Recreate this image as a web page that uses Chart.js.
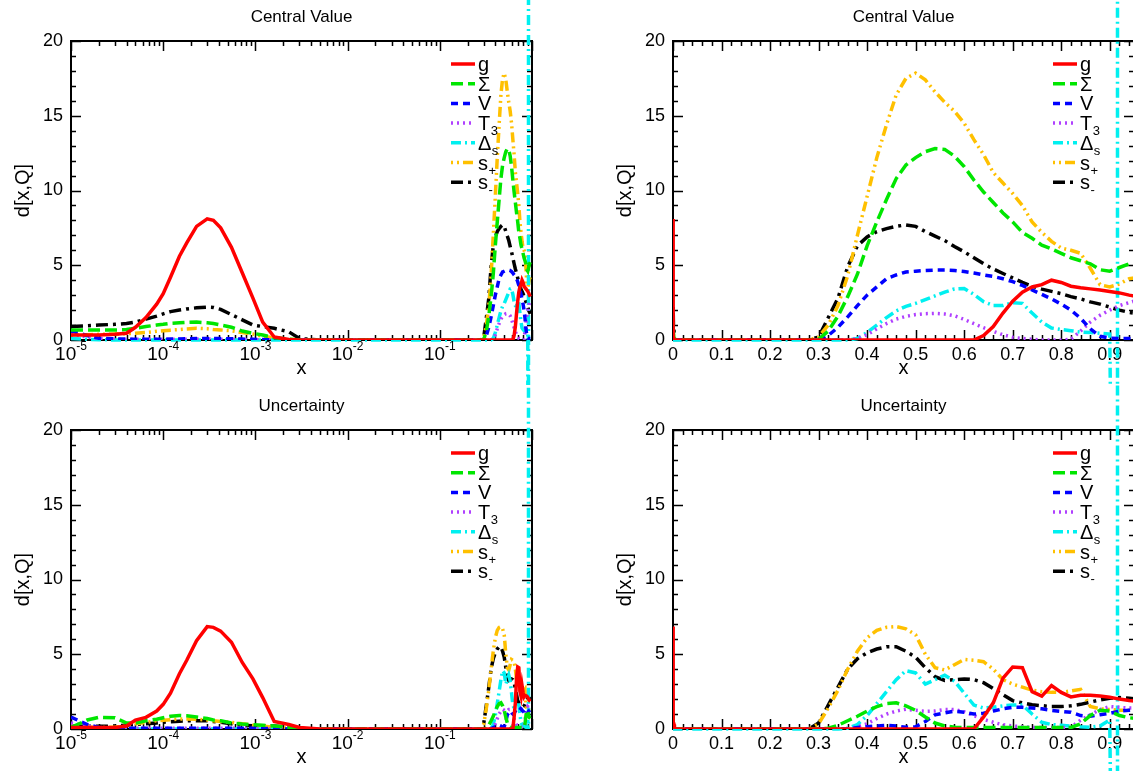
<!DOCTYPE html>
<html>
<head>
<meta charset="utf-8">
<title>d[x,Q]</title>
<script src="https://cdn.jsdelivr.net/npm/chart.js@4.4.1/dist/chart.umd.min.js"></script>
<style>
  html, body { margin: 0; padding: 0; background: #fff; overflow: hidden; width: 1133px; height: 771px; }
  .panel { position: absolute; }
  .panel canvas { display: block; }
</style>
</head>
<body>
<div class="panel" style="left:0px;top:0px"><canvas id="cvCenLog" width="560" height="385"></canvas></div>
<div class="panel" style="left:602px;top:0px"><canvas id="cvCenLin" width="560" height="385"></canvas></div>
<div class="panel" style="left:0px;top:385px"><canvas id="cvUncLog" width="560" height="389"></canvas></div>
<div class="panel" style="left:602px;top:385px"><canvas id="cvUncLin" width="560" height="389"></canvas></div>

<script>
// ---------------------------------------------------------------
// x grid shared by every curve: a logarithmic part for small x and
// a regular part for large x
// ---------------------------------------------------------------
const xLow = [1e-5, 1.5e-5, 2e-5, 3e-5, 4e-5, 5e-5, 6.5e-5, 8.5e-5, 1e-4, 1.2e-4,
              1.5e-4, 1.8e-4, 2.3e-4, 3e-4, 3.5e-4, 4.2e-4, 5.5e-4, 7.2e-4, 9.4e-4, 1.2e-3,
              1.6e-3, 2.3e-3, 3e-3, 5e-3, 1e-2, 3e-2, 0.1, 0.2];
const xHigh = [0.28, 0.30, 0.32, 0.34, 0.36, 0.38, 0.40, 0.42, 0.44, 0.46,
               0.48, 0.50, 0.52, 0.54, 0.56, 0.58, 0.60, 0.62, 0.64, 0.66,
               0.68, 0.70, 0.72, 0.74, 0.76, 0.78, 0.80, 0.82, 0.84, 0.86,
               0.88, 0.90, 0.92, 0.94, 0.96];

// Δs diverges at this x: the curve leaves the frame on both sides
const dsPoleX = 0.916;
const dsPoleY = [-45, 45];

// ---------------------------- central value ----------------------------
const gCenLow   = [0.33,0.33,0.33,0.38,0.45,0.85,1.5,2.4,3.1,4.2,5.6,6.5,7.6,8.1,8.0,7.5,6.2,4.5,2.8,1.2,0.2,0.03,0,0,0,0,0,0];
const sigCenLow = [0.67,0.67,0.67,0.67,0.7,0.78,0.9,1.0,1.05,1.12,1.15,1.18,1.2,1.15,1.1,1.0,0.85,0.6,0.45,0.33,0.15,0.05,0,0,0,0,0,0];
const vCenLow   = [0.6,0.3,0.12,0.08,0.06,0.05,0.05,0.05,0.05,0.06,0.07,0.08,0.1,0.1,0.1,0.1,0.08,0.06,0.05,0.03,0.02,0,0,0,0,0,0,0];
const t3CenLow  = [0.4,0.2,0.1,0.06,0.05,0.05,0.05,0.05,0.05,0.05,0.05,0.06,0.06,0.06,0.06,0.05,0.05,0.04,0.03,0.02,0.01,0,0,0,0,0,0,0];
const dsCenLow  = [0.1,0.05,0.02,0,0,0,0,0,0,0,0,0,0,0,0,0,0,0,0,0,0,0,0,0,0,0,0,0];
const spCenLow  = [0.33,0.35,0.38,0.4,0.42,0.45,0.5,0.58,0.62,0.66,0.7,0.74,0.78,0.75,0.7,0.67,0.62,0.5,0.4,0.25,0.15,0.05,0,0,0,0,0,0];
const smCenLow  = [0.9,0.95,1.0,1.05,1.1,1.2,1.4,1.6,1.75,1.9,2.0,2.08,2.15,2.2,2.18,2.05,1.7,1.35,1.0,0.9,0.78,0.55,0.1,0,0,0,0,0];

const gCenHigh   = [0,0,0,0,0,0,0,0,0,0,0,0,0,0,0,0,0,0,0.3,0.9,1.8,2.6,3.2,3.55,3.7,4.0,3.85,3.6,3.5,3.42,3.35,3.25,3.15,3.0,2.9];
const sigCenHigh = [0,0.05,0.6,1.6,2.9,4.4,6.3,7.9,9.4,10.8,11.7,12.2,12.6,12.8,12.75,12.3,11.6,10.7,9.9,9.2,8.5,7.9,7.2,6.8,6.35,6.1,5.8,5.5,5.3,5.1,4.7,4.6,4.85,5.1,5.2];
const vCenHigh   = [0,0,0.3,0.85,1.55,2.3,3.0,3.55,4.1,4.35,4.55,4.6,4.65,4.68,4.68,4.65,4.58,4.48,4.35,4.25,4.1,3.9,3.65,3.35,3.05,2.75,2.4,2.0,1.45,0.75,0.25,0.12,0.1,0.1,0.1];
const t3CenHigh  = [0,0,0,0,0,0.1,0.35,0.75,1.1,1.4,1.58,1.7,1.76,1.78,1.74,1.62,1.38,1.1,0.82,0.58,0.35,0.18,0.1,0.05,0,0,0,0.05,0.6,1.2,1.65,2.0,2.3,2.5,2.7];
const dsCenHigh  = [0,0,0,0,0,0.1,0.5,1.0,1.5,1.95,2.25,2.45,2.7,2.95,3.2,3.42,3.45,3.05,2.56,2.3,2.3,2.5,2.45,1.8,1.2,0.8,0.7,0.62,0.53,0.5,0.45,0.4];
const spCenHigh  = [0,0.2,1.0,2.3,4.3,7.0,9.6,12.2,14.4,16.4,17.5,17.85,17.4,16.6,15.9,15.3,14.5,13.4,12.4,11.2,10.5,9.8,9.0,7.9,7.2,6.6,6.15,6.0,5.8,4.8,3.7,3.55,3.75,4.1,4.2];
const smCenHigh  = [0,0.2,1.5,2.8,4.9,6.3,6.9,7.25,7.45,7.6,7.7,7.6,7.25,6.95,6.65,6.25,5.9,5.5,5.1,4.75,4.45,4.15,3.85,3.6,3.4,3.25,3.1,2.9,2.75,2.55,2.4,2.2,2.0,1.85,1.75];

// ----------------------------- uncertainty -----------------------------
const gUncLow   = [0.1,0.1,0.1,0.1,0.2,0.6,0.78,1.2,1.65,2.4,3.7,4.6,5.9,6.85,6.8,6.55,5.8,4.45,3.35,2.1,0.5,0.3,0.1,0,0,0,0,0];
const sigUncLow = [0.1,0.6,0.78,0.75,0.4,0.4,0.55,0.65,0.75,0.85,0.9,0.88,0.8,0.7,0.6,0.55,0.4,0.33,0.28,0.25,0.2,0.1,0,0,0,0,0,0];
const vUncLow   = [0.8,0.3,0.1,0.05,0.05,0.05,0.05,0.05,0.05,0.05,0.05,0.05,0.05,0.05,0.05,0.05,0.05,0.05,0.05,0.03,0.02,0,0,0,0,0,0,0];
const t3UncLow  = [0.4,0.2,0.1,0.05,0.05,0.05,0.05,0.05,0.05,0.05,0.05,0.05,0.05,0.05,0.05,0.05,0.05,0.04,0.03,0.02,0.01,0,0,0,0,0,0,0];
const dsUncLow  = [0.05,0.03,0.02,0,0,0,0,0,0,0,0,0,0,0,0,0,0,0,0,0,0,0,0,0,0,0,0,0];
const spUncLow  = [0.22,0.15,0.1,0.12,0.2,0.35,0.45,0.55,0.58,0.62,0.66,0.67,0.65,0.6,0.55,0.5,0.45,0.35,0.25,0.2,0.12,0.05,0,0,0,0,0,0];
const smUncLow  = [0.18,0.18,0.18,0.2,0.25,0.3,0.35,0.4,0.45,0.48,0.52,0.55,0.55,0.55,0.5,0.45,0.35,0.25,0.22,0.22,0.2,0.1,0,0,0,0,0,0];

const gUncHigh   = [0,0,0,0,0,0,0,0,0,0,0,0,0,0,0,0,0,0,0.8,1.75,3.4,4.15,4.1,2.5,2.2,2.9,2.45,2.15,2.25,2.25,2.2,2.12,2.0,1.9,1.85];
const sigUncHigh = [0,0,0.05,0.25,0.55,0.85,1.2,1.5,1.7,1.75,1.55,1.25,0.8,0.4,0.2,0.12,0.1,0.1,0.1,0.1,0.1,0.1,0.1,0.1,0.1,0.1,0.1,0.1,0.35,0.9,1.25,1.2,0.9,0.75,0.7];
const vUncHigh   = [0,0,0,0,0,0.1,0.15,0.2,0.25,0.2,0.12,0.15,0.5,0.95,1.08,1.2,1.12,1.0,1.05,1.2,1.35,1.45,1.45,1.4,1.35,1.25,1.18,1.12,0.9,0.85,0.95,1.05,1.2,1.25,1.3];
const t3UncHigh  = [0,0,0,0,0,0.15,0.35,0.7,1.0,1.2,1.32,1.25,1.18,1.2,1.3,1.3,1.15,0.9,0.65,0.45,0.28,0.2,0.15,0.1,0.1,0.1,0.1,0.1,0.6,0.95,1.3,1.5,1.45,1.4,1.4];
const dsUncHigh  = [0,0,0,0,0.05,0.3,0.9,1.7,2.5,3.3,3.9,3.75,3.0,3.3,3.6,3.2,2.4,1.6,1.4,1.45,1.55,1.6,1.6,1.0,0.45,0.3,0.25,0.2,0.15,0.12,0.2,0.6];
const spUncHigh  = [0,0.35,1.4,2.6,4.0,5.2,6.1,6.6,6.8,6.85,6.7,6.3,5.0,4.1,3.95,4.3,4.65,4.6,4.5,4.0,3.3,3.0,2.8,2.6,2.5,2.45,2.45,2.55,2.65,1.5,1.35,1.3,1.25,1.25,1.25];
const smUncHigh  = [0,0.4,1.6,2.8,4.0,4.7,5.1,5.35,5.5,5.5,5.2,4.8,4.1,3.5,3.25,3.3,3.35,3.3,3.1,2.7,2.3,1.9,1.75,1.62,1.56,1.5,1.5,1.55,1.65,1.8,1.95,2.05,2.1,2.05,2.0];

// series names (main symbol + subscript)
const seriesNames = ['g', 'Σ', 'V', 'T', 'Δ', 's', 's'];
const seriesSubs  = ['', '', '', '3', 's', '+', '-'];

// axis labels
const linTickLabels = ['0', '0.1', '0.2', '0.3', '0.4', '0.5', '0.6', '0.7', '0.8', '0.9'];
const logTickExps = [-5, -4, -3, -2, -1];
const panelTitles = ['Central Value', 'Uncertainty'];

// ---------------------------------------------------------------
// styles
// ---------------------------------------------------------------
const FONT = "'Liberation Sans', Arial, Helvetica, sans-serif";
const seriesColors = ['#ff0000', '#00e600', '#0000ff', '#b040ff', '#00f0f0', '#ffc000', '#000000'];
const seriesDashes = [[], [12, 5], [7, 5], [2, 4], [10, 4, 2, 4], [2, 4, 2, 4, 10, 4], [12, 5, 3, 5]];
const LINE_W = 3.5;

function toPoints(low, high) {
  const pts = xLow.map((x, i) => ({ x: x, y: low[i] }));
  return pts.concat(high.map((v, i) => ({ x: xHigh[i], y: v })));
}

function rowSeries(low, high, dsIndex) {
  return low.map((l, k) => {
    const pts = toPoints(l, high[k]);
    if (k === dsIndex) dsPoleY.forEach(v => pts.push({ x: dsPoleX, y: v }));
    return pts;
  });
}

const centralSeries = rowSeries(
  [gCenLow, sigCenLow, vCenLow, t3CenLow, dsCenLow, spCenLow, smCenLow],
  [gCenHigh, sigCenHigh, vCenHigh, t3CenHigh, dsCenHigh, spCenHigh, smCenHigh], 4);
const uncertaintySeries = rowSeries(
  [gUncLow, sigUncLow, vUncLow, t3UncLow, dsUncLow, spUncLow, smUncLow],
  [gUncHigh, sigUncHigh, vUncHigh, t3UncHigh, dsUncHigh, spUncHigh, smUncHigh], 4);

// ---------------------------------------------------------------
// frame with inward ticks on all four sides (drawn under the curves)
// ---------------------------------------------------------------
const frameTicks = {
  id: 'frameTicks',
  beforeDatasetsDraw(chart) {
    const { ctx, chartArea: a, scales } = chart;
    const xs = scales.x, ys = scales.y;
    const MAJ = 10, MIN = 5;
    ctx.save();
    ctx.strokeStyle = '#000';
    ctx.setLineDash([]);
    ctx.lineWidth = 1.5;

    const xTicks = [];
    if (xs.type === 'logarithmic') {
      logTickExps.concat([0]).forEach(e => xTicks.push([Math.pow(10, e), MAJ]));
      logTickExps.forEach(e => { for (let k = 2; k <= 9; k++) xTicks.push([k * Math.pow(10, e), MIN]); });
    } else {
      for (let i = 0; i * 0.02 <= xs.max + 1e-9; i++) xTicks.push([i * 0.02, i % 5 === 0 ? MAJ : MIN]);
    }
    ctx.beginPath();
    xTicks.forEach(([v, len]) => {
      const px = Math.round(xs.getPixelForValue(v)) + 0.5;
      if (px < a.left - 1 || px > a.right + 1) return;
      ctx.moveTo(px, a.bottom); ctx.lineTo(px, a.bottom - len);
      ctx.moveTo(px, a.top); ctx.lineTo(px, a.top + len);
    });
    for (let v = 0; v <= ys.max; v++) {
      const len = v % 5 === 0 ? MAJ : MIN;
      const py = Math.round(ys.getPixelForValue(v)) + 0.5;
      ctx.moveTo(a.left, py); ctx.lineTo(a.left + len, py);
      ctx.moveTo(a.right, py); ctx.lineTo(a.right - len, py);
    }
    ctx.stroke();

    ctx.lineWidth = 2;
    ctx.strokeRect(a.left, a.top, a.right - a.left, a.bottom - a.top);
    ctx.restore();
  }
};

// ---------------------------------------------------------------
// panel title, legend and the 10^n labels of the log axis
// ---------------------------------------------------------------
const decorations = {
  id: 'decorations',
  afterDatasetsDraw(chart, args, opts) {
    const { ctx, chartArea: a, scales } = chart;
    ctx.save();
    ctx.fillStyle = '#000';
    ctx.setLineDash([]);

    // title
    ctx.font = `17px ${FONT}`;
    ctx.textAlign = 'center';
    ctx.textBaseline = 'middle';
    ctx.fillText(opts.title, (a.left + a.right) / 2, a.top - 24);

    // legend
    ctx.textAlign = 'left';
    ctx.textBaseline = 'alphabetic';
    seriesNames.forEach((name, i) => {
      const yRow = a.top + 23 + i * 19.7;
      ctx.strokeStyle = seriesColors[i];
      ctx.lineWidth = LINE_W;
      ctx.setLineDash(seriesDashes[i]);
      ctx.beginPath();
      ctx.moveTo(a.right - 81, yRow);
      ctx.lineTo(a.right - 57, yRow);
      ctx.stroke();
      ctx.setLineDash([]);
      const tx = a.right - 54;
      ctx.font = `20px ${FONT}`;
      ctx.fillText(name, tx, yRow + 7);
      if (seriesSubs[i]) {
        const w = ctx.measureText(name).width;
        ctx.font = `13px ${FONT}`;
        ctx.fillText(seriesSubs[i], tx + w + 0.5, yRow + 12);
      }
    });

    // 10^n labels
    const xs = scales.x;
    if (xs.type === 'logarithmic') {
      logTickExps.forEach(e => {
        const px = xs.getPixelForValue(Math.pow(10, e));
        const base = '10', sup = String(e);
        ctx.font = `19px ${FONT}`;
        const w1 = ctx.measureText(base).width;
        ctx.font = `12px ${FONT}`;
        const w2 = ctx.measureText(sup).width;
        const x0 = px - (w1 + w2) / 2;
        ctx.textBaseline = 'top';
        ctx.font = `19px ${FONT}`;
        ctx.fillText(base, x0, a.bottom + 5);
        ctx.font = `12px ${FONT}`;
        ctx.fillText(sup, x0 + w1, a.bottom + 1);
      });
    }
    ctx.restore();
  }
};

// ---------------------------------------------------------------
// one panel
// ---------------------------------------------------------------
function makePanel(canvasId, logX, title, series, padTop, clipBottom) {
  const datasets = series.map((pts, i) => ({
    label: seriesNames[i] + seriesSubs[i],
    data: pts,
    borderColor: seriesColors[i],
    borderDash: seriesDashes[i],
    borderWidth: LINE_W,
    borderCapStyle: 'butt',
    pointRadius: 0,
    tension: 0,
    fill: false,
    clip: i === 4 ? { left: 0, right: 0, top: false, bottom: clipBottom ? 0 : false } : 0
  }));

  const tickFont = { family: FONT, size: 18 };
  const titleFont = { family: FONT, size: 20 };

  return new Chart(document.getElementById(canvasId), {
    type: 'line',
    data: { datasets },
    options: {
      responsive: false,
      animation: false,
      devicePixelRatio: 1,
      events: [],
      layout: { padding: { left: 0, top: padTop, right: 28, bottom: 0 } },
      plugins: {
        legend: { display: false },
        tooltip: { enabled: false },
        title: { display: false },
        decorations: { title: title }
      },
      scales: {
        x: logX ? {
          type: 'logarithmic',
          min: 1e-5, max: 1,
          grid: { display: false, drawTicks: false },
          border: { display: false },
          ticks: { callback: () => '', autoSkip: false, maxRotation: 0 },
          title: { display: true, text: 'x', color: '#000', font: titleFont, padding: { top: 0, bottom: 5 } },
          afterFit(s) { s.height = 45; }
        } : {
          type: 'linear',
          min: 0, max: 0.95,
          grid: { display: false, drawTicks: false },
          border: { display: false },
          ticks: {
            stepSize: 0.1, includeBounds: false, autoSkip: false, maxRotation: 0,
            color: '#000', font: tickFont, padding: 4,
            callback: (v, i) => linTickLabels[i]
          },
          title: { display: true, text: 'x', color: '#000', font: titleFont, padding: { top: 0, bottom: 5 } },
          afterFit(s) { s.height = 45; }
        },
        y: {
          min: 0, max: 20,
          grid: { display: false, drawTicks: false },
          border: { display: false },
          ticks: { stepSize: 5, color: '#000', font: tickFont, padding: 8 },
          title: { display: true, text: 'd[x,Q]', color: '#000', font: titleFont, padding: { top: 11, bottom: 0 } },
          afterFit(s) { s.width = 71; }
        }
      }
    },
    plugins: [frameTicks, decorations]
  });
}

makePanel('cvCenLog', true,  panelTitles[0], centralSeries, 41, false);
makePanel('cvCenLin', false, panelTitles[0], centralSeries, 41, false);
makePanel('cvUncLog', true,  panelTitles[1], uncertaintySeries, 45, true);
makePanel('cvUncLin', false, panelTitles[1], uncertaintySeries, 45, false);
</script>
</body>
</html>
